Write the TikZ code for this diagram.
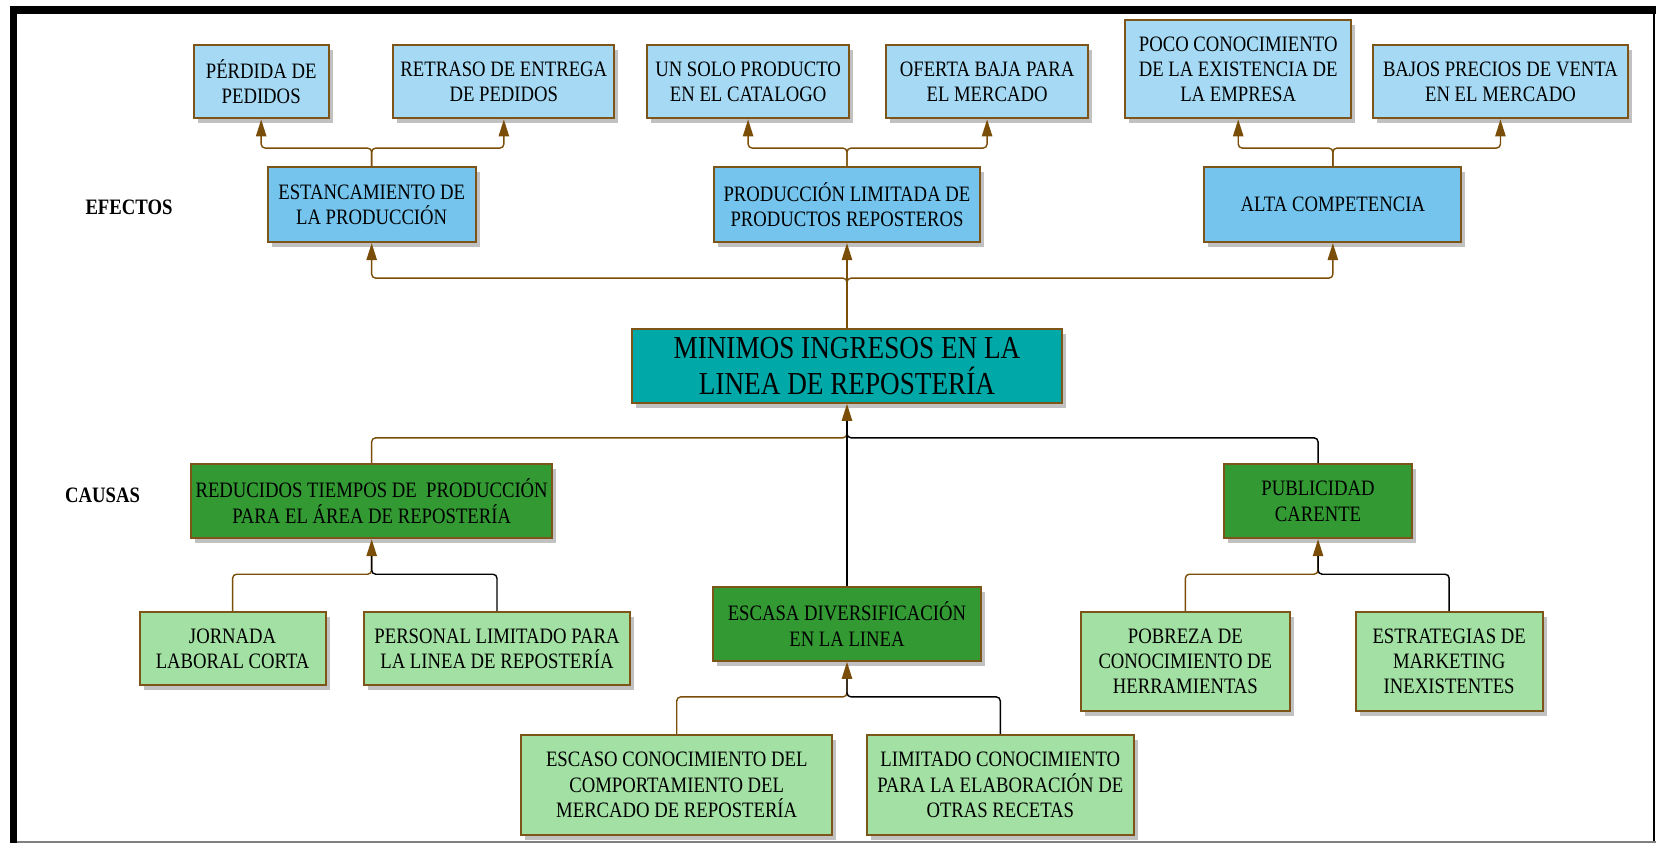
\documentclass[tikz,border=0pt]{standalone}
\usepackage{fontspec}
\setmainfont{Liberation Serif}[FakeStretch=0.85]
\usetikzlibrary{positioning}
\usetikzlibrary{arrows.meta}
\usetikzlibrary{shadows}

\definecolor{efectoclaro}{RGB}{166,218,244}
\definecolor{efecto}{RGB}{116,196,238}
\definecolor{problema}{RGB}{0,168,168}
\definecolor{causa}{RGB}{51,153,51}
\definecolor{causaclara}{RGB}{163,224,163}
\definecolor{bordecafe}{RGB}{125,85,25}
\definecolor{lineacafe}{RGB}{122,78,8}

\begin{document}
\begin{tikzpicture}[x=0.5287pt,y=-0.5287pt,
    caja/.style={draw=bordecafe,line width=1pt,align=center,inner sep=2pt,
        drop shadow={shadow xshift=2pt,shadow yshift=-2.5pt,opacity=0.35,fill=black!70},
        font=\fontsize{11}{12.7}\selectfont},
    tam/.style 2 args={minimum width=#1*0.5287pt,minimum height=#2*0.5287pt},
    flecha/.style={draw=lineacafe,line width=0.7pt,rounded corners=2pt,
        -{Triangle[length=8.5pt,width=5.2pt]}},
    lineanegra/.style={draw=black,line width=0.7pt,rounded corners=2pt,shorten >=8.5pt}]

    \useasboundingbox (0,0) rectangle (1568,797);

    % marco
    \fill (9.5,6) rectangle (16,797);
    \fill (9.5,6) rectangle (1566,13);
    \draw[line width=1pt] (1564,13) -- (1564,797);
    \draw[gray,line width=1pt] (16,796) -- (1566,796);

    \node[font=\fontsize{11}{12.7}\selectfont\bfseries] (efectos) at (122,196) {EFECTOS};
    \node[font=\fontsize{11}{12.7}\selectfont\bfseries] (causas) at (97,468) {CAUSAS};

    % efectos
    \begin{scope}[every node/.style={caja,fill=efectoclaro}]
        \node[tam={128}{69}] (perdida) at (247,77.5) {PÉRDIDA DE\\PEDIDOS};
        \node[tam={209}{69}] (retraso) at (476.5,77.5) {RETRASO DE ENTREGA\\DE PEDIDOS};
        \node[tam={191}{69}] (unsolo) at (707.5,77.5) {UN SOLO PRODUCTO\\EN EL CATALOGO};
        \node[tam={191}{69}] (oferta) at (933.5,77.5) {OFERTA BAJA PARA\\EL MERCADO};
        \node[tam={214}{93}] (poco) at (1171,65.5) {POCO CONOCIMIENTO\\DE LA EXISTENCIA DE\\LA EMPRESA};
        \node[tam={242}{69}] (bajos) at (1419,77.5) {BAJOS PRECIOS DE VENTA\\EN EL MERCADO};
    \end{scope}

    \begin{scope}[every node/.style={caja,fill=efecto}]
        \node[tam={197}{71}] (estancamiento) at (351.5,193.5) {ESTANCAMIENTO DE\\LA PRODUCCIÓN};
        \node[tam={252}{71}] (produccion) at (801,193.5) {PRODUCCIÓN LIMITADA DE\\PRODUCTOS REPOSTEROS};
        \node[tam={243}{71}] (competencia) at (1260.5,193.5) {ALTA COMPETENCIA};
    \end{scope}

    \node[caja,fill=problema,tam={406}{70},font=\fontsize{16}{18}\selectfont]
        (nucleo) at (801,346) {MINIMOS INGRESOS EN LA\\LINEA DE REPOSTERÍA};

    % causas
    \begin{scope}[every node/.style={caja,fill=causa}]
        \node[tam={341}{70}] (reducidos) at (351.5,474) {REDUCIDOS TIEMPOS DE~ PRODUCCIÓN\\PARA EL ÁREA DE REPOSTERÍA};
        \node[tam={253}{70}] (escasa) at (801,590) {ESCASA DIVERSIFICACIÓN\\EN LA LINEA};
        \node[tam={177}{70}] (publicidad) at (1246.5,474) {PUBLICIDAD\\CARENTE};
    \end{scope}

    \begin{scope}[every node/.style={caja,fill=causaclara}]
        \node[tam={176}{69}] (jornada) at (220,613.5) {JORNADA\\LABORAL CORTA};
        \node[tam={252}{69}] (personal) at (470,613.5) {PERSONAL LIMITADO PARA\\LA LINEA DE REPOSTERÍA};
        \node[tam={294}{95}] (escasoc) at (640,742.5) {ESCASO CONOCIMIENTO DEL\\COMPORTAMIENTO DEL\\MERCADO DE REPOSTERÍA};
        \node[tam={252}{95}] (limitado) at (946,742.5) {LIMITADO CONOCIMIENTO\\PARA LA ELABORACIÓN DE\\OTRAS RECETAS};
        \node[tam={198}{93}] (pobreza) at (1121,625.5) {POBREZA DE\\CONOCIMIENTO DE\\HERRAMIENTAS};
        \node[tam={177}{93}] (estrategias) at (1370.5,625.5) {ESTRATEGIAS DE\\MARKETING\\INEXISTENTES};
    \end{scope}

    % conectores de efectos
    \draw[flecha] (nucleo.north) -- (produccion.south);
    \draw[flecha] (nucleo.north) -- ++(0,-47) -| (estancamiento.south);
    \draw[flecha] (nucleo.north) -- ++(0,-47) -| (competencia.south);
    \draw[flecha] (estancamiento.north) -- ++(0,-17) -| (perdida.south);
    \draw[flecha] (estancamiento.north) -- ++(0,-17) -| (retraso.south);
    \draw[flecha] (produccion.north) -- ++(0,-17) -| (unsolo.south);
    \draw[flecha] (produccion.north) -- ++(0,-17) -| (oferta.south);
    \draw[flecha] (competencia.north) -- ++(0,-17) -| (poco.south);
    \draw[flecha] (competencia.north) -- ++(0,-17) -| (bajos.south);

    % conectores de causas
    \draw[flecha] (reducidos.north) -- ++(0,-24) -| (nucleo.south);
    \draw[lineanegra] (escasa.north) -- (nucleo.south);
    \draw[lineanegra] (publicidad.north) -- ++(0,-24) -| (nucleo.south);
    \draw[flecha] (jornada.north) -- ++(0,-35) -| (reducidos.south);
    \draw[lineanegra] (personal.north) -- ++(0,-35) -| (reducidos.south);
    \draw[flecha] (escasoc.north) -- ++(0,-35) -| (escasa.south);
    \draw[lineanegra] (limitado.north) -- ++(0,-35) -| (escasa.south);
    \draw[flecha] (pobreza.north) -- ++(0,-35) -| (publicidad.south);
    \draw[lineanegra] (estrategias.north) -- ++(0,-35) -| (publicidad.south);
\end{tikzpicture}
\end{document}
